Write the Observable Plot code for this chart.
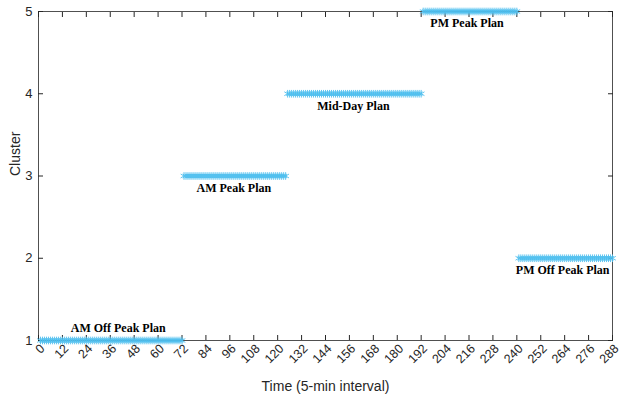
<!DOCTYPE html>
<html>
<head>
<meta charset="utf-8">
<script src="https://cdn.jsdelivr.net/npm/d3@7"></script>
<script src="https://cdn.jsdelivr.net/npm/@observablehq/plot@0.6"></script>
<style>
  body { margin: 0; background: #fff; }
  #chart svg { font-family: "Liberation Sans", Arial, sans-serif; }
</style>
</head>
<body>
<div id="chart"></div>
<script>
// Cluster segments (time index ranges, 5-min intervals)
const segStart = [1, 73, 125, 193, 241];
const segEnd   = [72, 124, 192, 240, 288];
const segCluster = [1, 3, 4, 5, 2];
const planNames = ["AM Off Peak Plan", "AM Peak Plan", "Mid-Day Plan", "PM Peak Plan", "PM Off Peak Plan"];
const labelX = [40, 98, 158, 215, 263];
const labelAbove = [true, false, false, false, false];
const xTicks = d3.range(0, 289, 12);
const yTicks = [1, 2, 3, 4, 5];

const points = [];
segStart.forEach((s, i) => {
  for (let t = s; t <= segEnd[i]; t++) points.push({t, c: segCluster[i]});
});
const labels = planNames.map((n, i) => ({name: n, x: labelX[i], y: segCluster[i], above: labelAbove[i]}));

const color = "#4DBEEE";
const textOpts = {x: "x", y: "y", text: "name",
  fontFamily: "Liberation Serif, Times New Roman, serif", fontWeight: "bold", fontSize: 12, fill: "#000"};
const plot = Plot.plot({
  width: 624,
  height: 394,
  marginLeft: 38,
  marginRight: 12,
  marginTop: 11,
  marginBottom: 54,
  style: {fontSize: "12px", fontFamily: "Liberation Sans, Arial, sans-serif", color: "#262626"},
  x: {domain: [0, 288]},
  y: {domain: [1, 5]},
  marks: [
    Plot.frame({stroke: "#262626", strokeWidth: 0.8}),
    Plot.axisX({ticks: xTicks, tickSize: -5, tickFormat: () => "", label: null}),
    Plot.axisX({anchor: "top", ticks: xTicks, tickSize: -5, tickFormat: () => "", label: null}),
    Plot.axisX({ticks: xTicks, tickSize: 0, tickPadding: 6, tickRotate: -45, fontSize: 12.5, dx: 4,
      label: null}),
    Plot.text(["Time (5-min interval)"], {frameAnchor: "bottom", dy: 50, text: d => d, fontSize: 14, fill: "#262626"}),
    Plot.axisY({ticks: yTicks, tickSize: -5, tickFormat: () => "", label: null}),
    Plot.axisY({anchor: "right", ticks: yTicks, tickSize: -5, tickFormat: () => "", label: null}),
    Plot.axisY({ticks: yTicks, tickSize: 0, tickPadding: 6, fontSize: 13, tickFormat: d3.format("d"), label: null}),
    Plot.text(["Cluster"], {frameAnchor: "left", dx: -23, rotate: -90, text: d => d, fontSize: 14, fill: "#262626"}),
    Plot.dot(points, {x: "t", y: "c", symbol: "asterisk", r: 3.6, stroke: color, strokeWidth: 0.9}),
    Plot.text(labels.filter(d => d.above), {...textOpts, dy: -12}),
    Plot.text(labels.filter(d => !d.above), {...textOpts, dy: 12}),
  ]
});
document.getElementById("chart").append(plot);
</script>
</body>
</html>
